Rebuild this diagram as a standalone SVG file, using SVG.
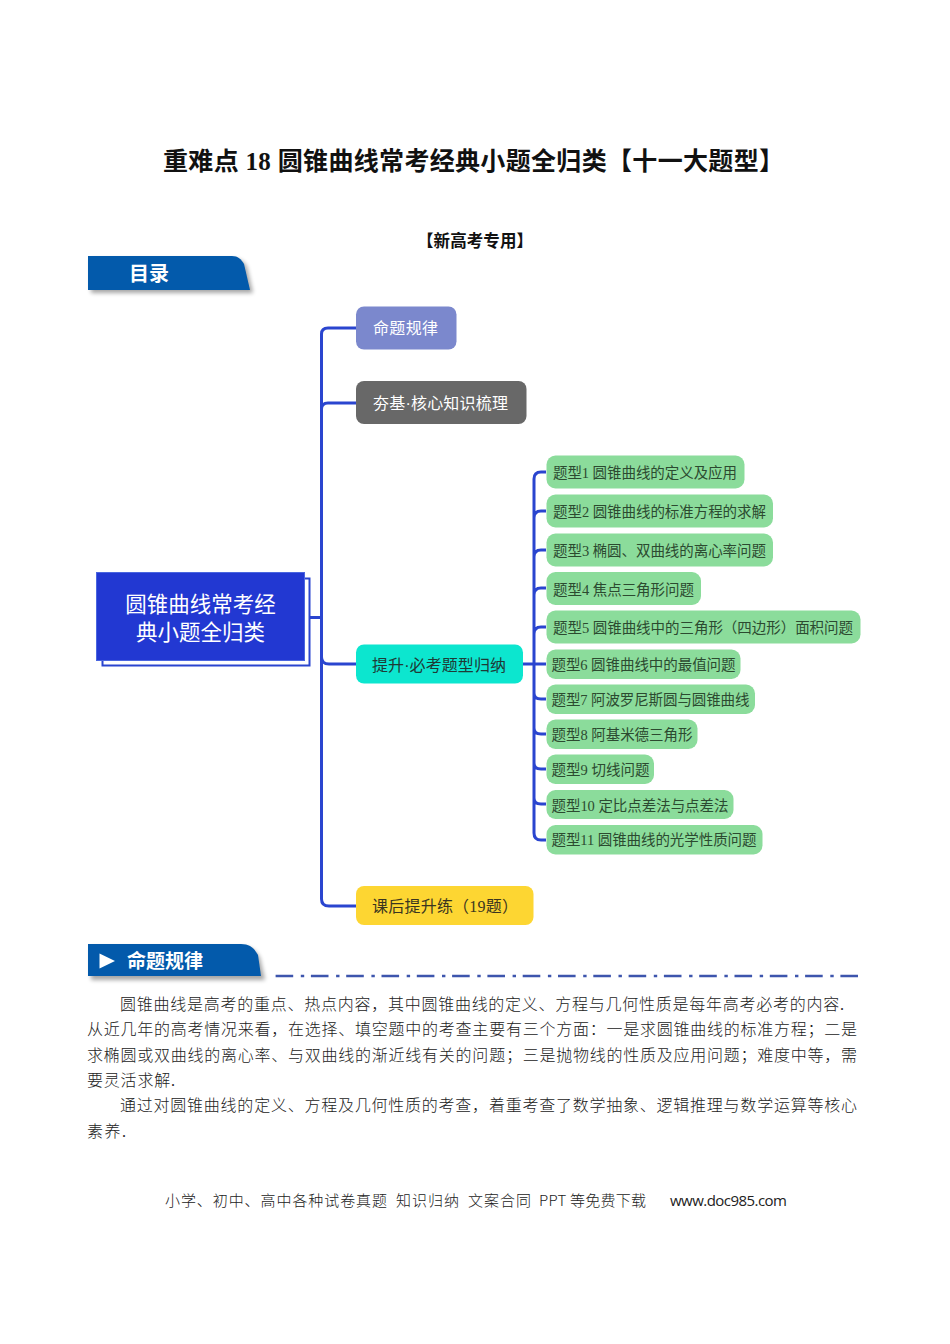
<svg xmlns="http://www.w3.org/2000/svg" width="950" height="1344" viewBox="0 0 950 1344">
<style>
text{font-family:"Liberation Serif","Noto Sans CJK SC",serif;}
.s{font-family:"Noto Sans CJK SC",sans-serif;}
.d{font-family:"Liberation Sans",sans-serif;}
.body{font-size:16px;fill:#222;font-family:"Liberation Serif","Noto Sans CJK SC",serif;font-weight:300}
.w{fill:#fff}
.n{font-size:14.5px;fill:#2c4a30}
.c{fill:none;stroke:#2a45cf;stroke-width:3}
.g{fill:#8bdc9b}
.m{font-size:16px}
</style>
<defs>
<filter id="sh" x="-10%" y="-20%" width="125%" height="150%"><feGaussianBlur stdDeviation="2"/></filter>
<path id="tab" d="M0 0H144C150 0 153 3 156 8L162 34H0Z"/>
</defs>
<rect width="950" height="1344" fill="#fff"/>
<text x="163" y="169.500" font-size="25" font-weight="700" fill="#111" textLength="621" lengthAdjust="spacing">重难点 18 圆锥曲线常考经典小题全归类【十一大题型】</text>
<text x="417" y="247" font-size="16.500" font-weight="700" fill="#111" textLength="116">【新高考专用】</text>

<g id="tab-toc">
<use href="#tab" x="91" y="259" fill="#000" opacity=".35" filter="url(#sh)"/>
<use href="#tab" x="88" y="256" fill="#035aab"/>
<text class="s w" x="129" y="281" font-size="20" font-weight="700">目录</text>
</g>

<g id="connectors">
<path class="c" d="M310 617.500H321M356 328H328Q321.500 328 321.500 334V899Q321.500 906 329 906H356M321.500 409Q321.500 403 328 403H356M321.500 657Q321.500 664 329 664H356"/>
<path class="c" d="M523 664H534"/>
<path class="c" d="M546 472H541Q534 472 534 479V833Q534 840 541 840H546M534 518Q534 511 541 511H546M534 557Q534 550 541 550H546M534 595Q534 588 541 588H546M534 634Q534 627 541 627H546M534 664H546M534 693Q534 699 541 699H546M534 728Q534 734 541 734H546M534 763Q534 769 541 769H546M534 798Q534 804 541 804H546"/>
</g>

<g id="root">
<rect x="102.500" y="578.500" width="207" height="87" fill="#fff" stroke="#2a45cf" stroke-width="2"/>
<rect x="96.500" y="572.500" width="208" height="88" fill="#2238d2" stroke="#4a66e0"/>
<text class="s w" x="200.500" y="612" font-size="21.500" text-anchor="middle">圆锥曲线常考经</text>
<text class="s w" x="200.500" y="640" font-size="21.500" text-anchor="middle">典小题全归类</text>
</g>

<g id="n-rule"><rect x="356" y="306.500" width="100.500" height="43" rx="8" fill="#7b88cd"/><text class="s m w" x="373" y="334" textLength="65">命题规律</text></g>
<g id="n-base"><rect x="356" y="381" width="170.500" height="43" rx="8" fill="#686868"/><text class="s m w" x="373" y="409" textLength="135">夯基<tspan class="d">·</tspan>核心知识梳理</text></g>
<g id="n-up"><rect x="356" y="644.500" width="167" height="39" rx="8" fill="#0ce6cf"/><text class="s m" x="372" y="671" fill="#1f3a36" textLength="134">提升<tspan class="d">·</tspan>必考题型归纳</text></g>
<g id="n-after"><rect x="356" y="886" width="177.500" height="39" rx="8" fill="#fdd632"/><text class="m" x="372" y="912" fill="#3b3520" textLength="146">课后提升练（19题）</text></g>

<g id="t1"><rect class="g" x="546.500" y="455.500" width="198" height="33" rx="9"/><text class="n" x="553" y="478" textLength="184">题型1 圆锥曲线的定义及应用</text></g>
<g id="t2"><rect class="g" x="546.500" y="494.500" width="226.500" height="33" rx="9"/><text class="n" x="553" y="517" textLength="213">题型2 圆锥曲线的标准方程的求解</text></g>
<g id="t3"><rect class="g" x="546.500" y="533.500" width="226.500" height="33" rx="9"/><text class="n" x="553" y="555.500" textLength="213">题型3 椭圆、双曲线的离心率问题</text></g>
<g id="t4"><rect class="g" x="546.500" y="572" width="154.500" height="33" rx="9"/><text class="n" x="553" y="594.500" textLength="141">题型4 焦点三角形问题</text></g>
<g id="t5"><rect class="g" x="546.500" y="610.500" width="314" height="33" rx="9"/><text class="n" x="553" y="633" textLength="300">题型5 圆锥曲线中的三角形（四边形）面积问题</text></g>
<g id="t6"><rect class="g" x="546.500" y="649.500" width="194" height="29.500" rx="9"/><text class="n" x="551.500" y="670" textLength="184">题型6 圆锥曲线中的最值问题</text></g>
<g id="t7"><rect class="g" x="546.500" y="684.500" width="208.500" height="29.500" rx="9"/><text class="n" x="551.500" y="705" textLength="198">题型7 阿波罗尼斯圆与圆锥曲线</text></g>
<g id="t8"><rect class="g" x="546.500" y="719.500" width="151" height="29.500" rx="9"/><text class="n" x="551.500" y="740" textLength="141">题型8 阿基米德三角形</text></g>
<g id="t9"><rect class="g" x="546.500" y="754.500" width="107.500" height="29.500" rx="9"/><text class="n" x="551.500" y="775" textLength="98">题型9 切线问题</text></g>
<g id="t10"><rect class="g" x="546.500" y="790" width="187" height="29" rx="9"/><text class="n" x="551.500" y="810.500" textLength="177">题型10 定比点差法与点差法</text></g>
<g id="t11"><rect class="g" x="546.500" y="825" width="216" height="29.500" rx="9"/><text class="n" x="551.500" y="845" textLength="205">题型11 圆锥曲线的光学性质问题</text></g>

<g id="tab-rule">
<path d="M91 947H243C252 947 256 951 260 958L265 980H91Z" fill="#000" opacity=".35" filter="url(#sh)"/>
<path d="M88 944H241C250 944 254 948 258 955L261 976H88Z" fill="#035aab"/>
<path d="M99.500 953.500L115 961L99.500 968.500Z" fill="#fff"/>
<text class="s w" x="127" y="968" font-size="19" font-weight="700">命题规律</text>
</g>
<path id="rule-line" d="M275.600 976H858" fill="none" stroke="#3d55ad" stroke-width="2.600" stroke-dasharray="17.600 7.600 3.400 6.700"/>

<g id="body">
<text class="body" x="120" y="1010" textLength="724">圆锥曲线是高考的重点、热点内容，其中圆锥曲线的定义、方程与几何性质是每年高考必考的内容.</text>
<text class="body" x="87" y="1035" textLength="770">从近几年的高考情况来看，在选择、填空题中的考查主要有三个方面：一是求圆锥曲线的标准方程；二是</text>
<text class="body" x="87" y="1061" textLength="770">求椭圆或双曲线的离心率、与双曲线的渐近线有关的问题；三是抛物线的性质及应用问题；难度中等，需</text>
<text class="body" x="87" y="1086" textLength="88">要灵活求解.</text>
<text class="body" x="120" y="1111" textLength="737">通过对圆锥曲线的定义、方程及几何性质的考查，着重考查了数学抽象、逻辑推理与数学运算等核心</text>
<text class="body" x="87" y="1137" textLength="39">素养.</text>
</g>
<g id="footer">
<text class="s" x="165" y="1206" font-size="15" fill="#222" font-weight="300" textLength="222">小学、初中、高中各种试卷真题</text>
<text class="s" x="396" y="1206" font-size="15" fill="#222" font-weight="300" textLength="63">知识归纳</text>
<text class="s" x="468" y="1206" font-size="15" fill="#222" font-weight="300" textLength="63">文案合同</text>
<text class="s" x="539" y="1206" font-size="15" fill="#222" font-weight="300" textLength="107">PPT 等免费下载</text>
<text x="670" y="1206" font-size="15" fill="#222" style="font-family:'Open Sans',sans-serif" textLength="117">www.doc985.com</text>
</g>
</svg>
